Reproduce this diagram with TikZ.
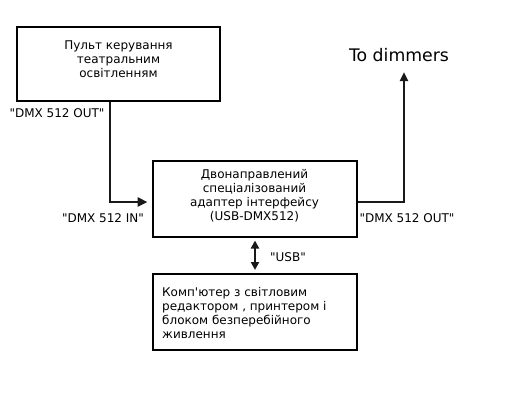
\documentclass[tikz,border=0pt]{standalone}
\usepackage{fontspec}
\setmainfont{DejaVu Sans}
\usetikzlibrary{arrows.meta,calc}
\begin{document}
\begin{tikzpicture}[x=1pt,y=-1pt,
  box/.style={draw=black,line width=2pt,inner sep=0pt,font=\fontsize{12}{14}\selectfont},
  wire/.style={draw=black!90,line width=2.8pt},
  lbl/.style={font=\fontsize{12}{14}\selectfont,inner sep=0pt}]
\useasboundingbox (0,0) rectangle (520,400);
\node[box,minimum width=203pt,minimum height=74pt] (console) at (118.5,64) {};
\node[lbl,align=center] (consoletxt) at (118.5,59) {Пульт керування\\театральним\\освітленням};
\node[box,minimum width=204pt,minimum height=76pt] (adapter) at (254.5,198.5) {};
\node[lbl,align=center] (adaptertxt) at (254.5,196) {Двонаправлений\\спеціалізований\\адаптер інтерфейсу\\(USB-DMX512)};
\node[box,minimum width=204pt,minimum height=76pt] (pc) at (254.5,312) {};
\node[lbl,align=left,anchor=west] (pctxt) at (162,313) {Комп\textquotesingle ютер з світловим\\редактором , принтером і\\блоком безперебійного\\живлення};
\node[lbl,font=\fontsize{17.3}{20}\selectfont] (dimmers) at (399,55) {To dimmers};
\coordinate (dimtip) at (404,72);
\node[lbl] (l1) at (57,113) {\textquotedbl DMX 512 OUT\textquotedbl};
\node[lbl] (l2) at (103,218) {\textquotedbl DMX 512 IN\textquotedbl};
\node[lbl] (l3) at (407,218) {\textquotedbl DMX 512 OUT\textquotedbl};
\node[lbl] (l4) at (288,257) {\textquotedbl USB\textquotedbl};
\draw[wire,-{Triangle[length=10pt,width=9pt]}] (console.south -| 110,0) |- ($(adapter.west |- 0,202)+(-4,0)$);
\draw[wire,-{Triangle[length=9pt,width=8pt]}] (adapter.east |- 0,202) -| (dimtip);
\draw[wire,line width=2.4pt,{Triangle[length=8pt,width=8pt]}-{Triangle[length=8pt,width=8pt]}] ($(adapter.south)+(0.5,3)$) -- ($(pc.north)+(0.5,-3)$);
\end{tikzpicture}
\end{document}
